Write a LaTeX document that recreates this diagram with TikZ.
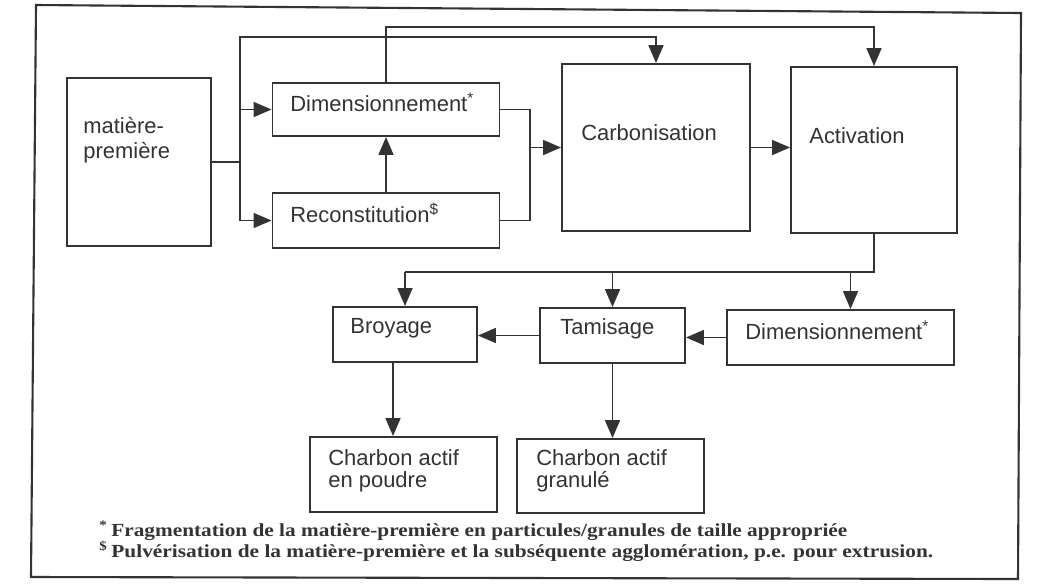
\documentclass[tikz,border=0pt]{standalone}
\usepackage{fontspec}
\usepackage{graphicx}
\setmainfont{Liberation Sans}
\newfontfamily\notefont{Liberation Serif}
\usetikzlibrary{arrows.meta}
\definecolor{ink}{HTML}{333333}
\begin{document}
\begin{tikzpicture}[x=0.02cm, y=-0.02cm,
        blk/.style={draw=ink, line width=1.1pt, inner sep=0pt},
        lbl/.style={text=ink, font=\fontsize{12.5}{14.5}\selectfont, align=left, anchor=west, inner sep=0pt},
        note/.style={text=ink, font=\notefont\bfseries\fontsize{10.5}{10.5}\selectfont, anchor=base west, inner sep=0pt},
        link/.style={draw=ink, line width=0.95pt},
        arr/.style={link, -{Triangle[length=0.36cm, width=0.3cm]}}]
        \useasboundingbox (0,0) rectangle (1037,586);
        \draw[ink, line width=1.2pt] (36,5) -- (1021,13) -- (1018,579) -- (31,577) -- cycle;

        \node[blk, minimum width=2.88cm, minimum height=3.36cm] (mp) at (139,162) {};
        \node[blk, minimum width=4.54cm, minimum height=1.06cm] (dim1) at (386,109.5) {};
        \node[blk, minimum width=4.54cm, minimum height=1.10cm] (recon) at (386,220.5) {};
        \node[blk, minimum width=3.76cm, minimum height=3.34cm] (carb) at (656,147.5) {};
        \node[blk, minimum width=3.32cm, minimum height=3.32cm] (activ) at (874,150) {};
        \node[blk, minimum width=2.88cm, minimum height=1.10cm] (broy) at (405,334.5) {};
        \node[blk, minimum width=2.90cm, minimum height=1.10cm] (tamis) at (612.5,335.5) {};
        \node[blk, minimum width=4.54cm, minimum height=1.10cm] (dim2) at (840.5,337.5) {};
        \node[blk, minimum width=3.74cm, minimum height=1.50cm] (poudre) at (403.5,474.5) {};
        \node[blk, minimum width=3.74cm, minimum height=1.48cm] (granule) at (610.5,476) {};

        \node[lbl] (mptxt) at (83,140) {matière-\\première};
        \node[lbl] (dim1txt) at (290,102) {Dimensionnement\textsuperscript{*}};
        \node[lbl] (recontxt) at (290,213) {Reconstitution\textsuperscript{\$}};
        \node[lbl] (carbtxt) at (581,133) {Carbonisation};
        \node[lbl] (activtxt) at (809,136) {Activation};
        \node[lbl] (broytxt) at (350,328) {Broyage};
        \node[lbl] (tamistxt) at (560,329) {Tamisage};
        \node[lbl] (dim2txt) at (745,330) {Dimensionnement\textsuperscript{*}};
        \node[lbl, font=\fontsize{12.5}{12.5}\selectfont] (poudretxt) at (328,471) {Charbon actif\\en poudre};
        \node[lbl, font=\fontsize{12.5}{12.5}\selectfont] (granuletxt) at (536,471) {Charbon actif\\granulé};

        \coordinate (j1) at (240,162);
        \coordinate (top1) at (240,37);
        \coordinate (top2) at (386,27);
        \coordinate (j2) at (530,147.5);
        \coordinate (j3) at (874,272);

        \draw[link] (mp.east) -- (j1);
        \draw[arr] (j1) |- (dim1.west);
        \draw[arr] (j1) |- (recon.west);
        \draw[arr] (j1) -- (top1) -| (carb.north);
        \draw[arr] (dim1.north) -- (top2) -| (activ.north);
        \draw[arr] (recon.north) -- (dim1.south);
        \draw[link] (dim1.east) -| (j2);
        \draw[link] (recon.east) -| (j2);
        \draw[arr] (j2) -- (carb.west);
        \draw[arr] (carb.east) -- (carb.east -| activ.west);

        \draw[link] (activ.south) -- (j3) -- (j3 -| broy.north);
        \draw[arr] (j3 -| broy.north) -- (broy.north);
        \draw[arr] (j3 -| tamis.north) -- (tamis.north);
        \draw[arr] ([xshift=0.2cm]dim2.north |- j3) -- ([xshift=0.2cm]dim2.north);
        \draw[arr] (dim2.west) -- (dim2.west -| tamis.east);
        \draw[arr] (tamis.west) -- (tamis.west -| broy.east);
        \draw[arr] ([xshift=-0.24cm]broy.south) -- ([xshift=-0.24cm]broy.south |- poudre.north);
        \draw[arr] (tamis.south) -- (tamis.south |- granule.north);

        \node[note] (fn1) at (99,536) {\resizebox{14.96cm}{\height}{\textsuperscript{*}\,Fragmentation de la matière-première en particules/granules de taille appropriée}};
        \node[note] (fn2) at (99,557) {\resizebox{16.68cm}{\height}{\textsuperscript{\$}\,Pulvérisation de la matière-première et la subséquente agglomération, p.e. pour extrusion.}};
\end{tikzpicture}
\end{document}
